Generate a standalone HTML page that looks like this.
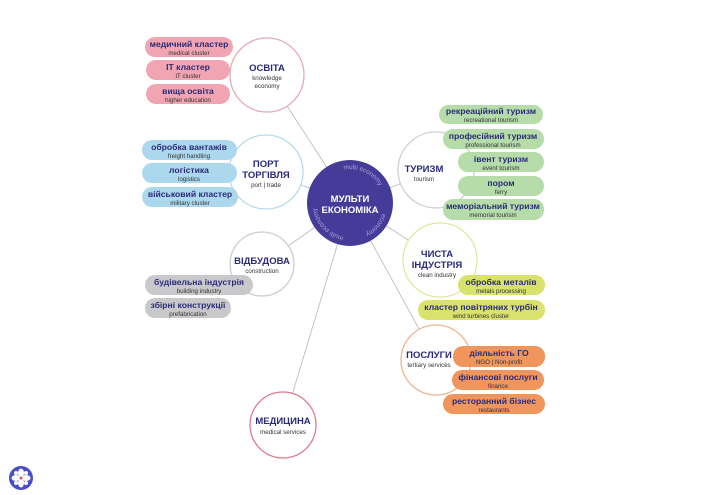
<!DOCTYPE html>
<html><head><meta charset="utf-8"><style>
html,body{margin:0;padding:0;background:#fff}
svg{display:block}
text{font-family:"Liberation Sans",sans-serif}
.t{font-weight:bold;fill:#2a2a78;font-size:8.6px}
.s{fill:#333;font-size:6.2px}
.h{font-weight:bold;fill:#2a2a78;font-size:9.5px}
</style></head><body>
<svg width="720" height="495" viewBox="0 0 720 495" xmlns="http://www.w3.org/2000/svg">
<g stroke="#b8b8bc" stroke-width="0.8">
<line x1="350" y1="203" x2="267" y2="75"/>
<line x1="350" y1="203" x2="266" y2="172"/>
<line x1="350" y1="203" x2="436" y2="170"/>
<line x1="350" y1="203" x2="440" y2="260"/>
<line x1="350" y1="203" x2="262" y2="264"/>
<line x1="350" y1="203" x2="436" y2="360"/>
<line x1="350" y1="203" x2="283" y2="425"/>
</g>
<g fill="#fff" stroke-width="1.3">
<circle cx="267" cy="75" r="37" stroke="#e7a9b6"/>
<circle cx="266" cy="172" r="37" stroke="#b5dcec"/>
<circle cx="436" cy="170" r="38" stroke="#cfcfcf"/>
<circle cx="440" cy="260" r="37" stroke="#e2e89a"/>
<circle cx="262" cy="264" r="32" stroke="#cfcfcf"/>
<circle cx="436" cy="360" r="35" stroke="#f2b48c"/>
<circle cx="283" cy="425" r="33" stroke="#e07890"/>
</g>
<circle cx="350" cy="203" r="43" fill="#463b98"/>
<text x="350" y="202" text-anchor="middle" font-weight="bold" font-size="9.5" fill="#fff">МУЛЬТИ</text>
<text x="350" y="213" text-anchor="middle" font-weight="bold" font-size="9.5" fill="#fff">ЕКОНОМІКА</text>
<defs><path id="arc" d="M350,203 m-34,0 a34,34 0 1,1 68,0 a34,34 0 1,1 -68,0"/></defs>
<text font-size="6.5" fill="#aaa6dd"><textPath href="#arc" startOffset="22%">multi economy</textPath></text>
<text font-size="6.5" fill="#aaa6dd"><textPath href="#arc" startOffset="55%">economy</textPath></text>
<text font-size="6.5" fill="#aaa6dd"><textPath href="#arc" startOffset="78%">multi economy</textPath></text>

<text x="267" y="71" text-anchor="middle" class="h">ОСВІТА</text>
<text x="267" y="80" text-anchor="middle" class="s">knowledge</text>
<text x="267" y="88" text-anchor="middle" class="s">economy</text>
<text x="266" y="167" text-anchor="middle" class="h">ПОРТ</text>
<text x="266" y="178" text-anchor="middle" class="h">ТОРГІВЛЯ</text>
<text x="266" y="187" text-anchor="middle" class="s">port | trade</text>
<text x="424" y="172" text-anchor="middle" class="h">ТУРИЗМ</text>
<text x="424" y="181" text-anchor="middle" class="s">tourism</text>
<text x="437" y="257" text-anchor="middle" class="h">ЧИСТА</text>
<text x="437" y="268" text-anchor="middle" class="h">ІНДУСТРІЯ</text>
<text x="437" y="277" text-anchor="middle" class="s">clean industry</text>
<text x="262" y="264" text-anchor="middle" class="h">ВІДБУДОВА</text>
<text x="262" y="273" text-anchor="middle" class="s">construction</text>
<text x="429" y="358" text-anchor="middle" class="h">ПОСЛУГИ</text>
<text x="429" y="367" text-anchor="middle" class="s">tertiary services</text>
<text x="283" y="424" text-anchor="middle" class="h">МЕДИЦИНА</text>
<text x="283" y="434" text-anchor="middle" class="s">medical services</text>

<g>
<rect x="145" y="37" width="88" height="20" rx="10" fill="#f1a5b2"/>
<text x="189" y="47" text-anchor="middle" class="t">медичний кластер</text><text x="189" y="55" text-anchor="middle" class="s">medical cluster</text>
<rect x="146" y="60" width="84" height="20" rx="10" fill="#f1a5b2"/>
<text x="188" y="70" text-anchor="middle" class="t">IT кластер</text><text x="188" y="78" text-anchor="middle" class="s">IT cluster</text>
<rect x="146" y="84" width="84" height="20" rx="10" fill="#f1a5b2"/>
<text x="188" y="94" text-anchor="middle" class="t">вища освіта</text><text x="188" y="102" text-anchor="middle" class="s">higher education</text>

<rect x="142" y="140" width="95" height="20" rx="10" fill="#acd8ee"/>
<text x="189" y="150" text-anchor="middle" class="t">обробка вантажів</text><text x="189" y="158" text-anchor="middle" class="s">freight handling</text>
<rect x="142" y="163" width="95" height="20" rx="10" fill="#acd8ee"/>
<text x="189" y="173" text-anchor="middle" class="t">логістика</text><text x="189" y="181" text-anchor="middle" class="s">logistics</text>
<rect x="142" y="187" width="96" height="20" rx="10" fill="#acd8ee"/>
<text x="190" y="197" text-anchor="middle" class="t">військовий кластер</text><text x="190" y="205" text-anchor="middle" class="s">military cluster</text>

<rect x="439" y="105" width="104" height="19" rx="9.5" fill="#b6dcaa"/>
<text x="491" y="114" text-anchor="middle" class="t">рекреаційний туризм</text><text x="491" y="122" text-anchor="middle" class="s">recreational tourism</text>
<rect x="443" y="129" width="101" height="20" rx="10" fill="#b6dcaa"/>
<text x="493" y="139" text-anchor="middle" class="t">професійний туризм</text><text x="493" y="147" text-anchor="middle" class="s">professional tourism</text>
<rect x="458" y="152" width="86" height="20" rx="10" fill="#b6dcaa"/>
<text x="501" y="162" text-anchor="middle" class="t">івент туризм</text><text x="501" y="170" text-anchor="middle" class="s">event tourism</text>
<rect x="458" y="176" width="86" height="20" rx="10" fill="#b6dcaa"/>
<text x="501" y="186" text-anchor="middle" class="t">пором</text><text x="501" y="194" text-anchor="middle" class="s">ferry</text>
<rect x="443" y="199" width="101" height="21" rx="10" fill="#b6dcaa"/>
<text x="493" y="209" text-anchor="middle" class="t">меморіальний туризм</text><text x="493" y="217" text-anchor="middle" class="s">memorial tourism</text>

<rect x="458" y="275" width="87" height="20" rx="10" fill="#d9e26c"/>
<text x="501" y="285" text-anchor="middle" class="t">обробка металів</text><text x="501" y="293" text-anchor="middle" class="s">metals processing</text>
<rect x="418" y="300" width="127" height="20" rx="10" fill="#d9e26c"/>
<text x="481" y="310" text-anchor="middle" class="t">кластер повітряних турбін</text><text x="481" y="318" text-anchor="middle" class="s">wind turbines cluster</text>

<rect x="453" y="346" width="92" height="21" rx="10" fill="#f0955c"/>
<text x="499" y="356" text-anchor="middle" class="t">діяльність ГО</text><text x="499" y="364" text-anchor="middle" class="s">NGO | Non-profit</text>
<rect x="452" y="370" width="92" height="20" rx="10" fill="#f0955c"/>
<text x="498" y="380" text-anchor="middle" class="t">фінансові послуги</text><text x="498" y="388" text-anchor="middle" class="s">finance</text>
<rect x="443" y="394" width="102" height="20" rx="10" fill="#f0955c"/>
<text x="494" y="404" text-anchor="middle" class="t">ресторанний бізнес</text><text x="494" y="412" text-anchor="middle" class="s">restaurants</text>

<rect x="145" y="275" width="108" height="20" rx="10" fill="#c9c9cb"/>
<text x="199" y="285" text-anchor="middle" class="t">будівельна індустрія</text><text x="199" y="293" text-anchor="middle" class="s">building industry</text>
<rect x="145" y="298" width="86" height="20" rx="10" fill="#c9c9cb"/>
<text x="188" y="308" text-anchor="middle" class="t">збірні конструкції</text><text x="188" y="316" text-anchor="middle" class="s">prefabrication</text>
</g>

<g transform="translate(21,478)">
<circle r="12" fill="#4a4fc8"/>
<g fill="#fff">
<ellipse cx="0" cy="-5" rx="3" ry="4.5"/><ellipse cx="0" cy="5" rx="3" ry="4.5"/>
<ellipse cx="-5" cy="0" rx="4.5" ry="3"/><ellipse cx="5" cy="0" rx="4.5" ry="3"/>
<ellipse cx="-5" cy="-5" rx="2" ry="2"/><ellipse cx="5" cy="5" rx="2" ry="2"/>
<ellipse cx="5" cy="-5" rx="2" ry="2"/><ellipse cx="-5" cy="5" rx="2" ry="2"/>
</g>
<circle r="1.5" fill="#e05060"/>
</g>
</svg>
</body></html>
